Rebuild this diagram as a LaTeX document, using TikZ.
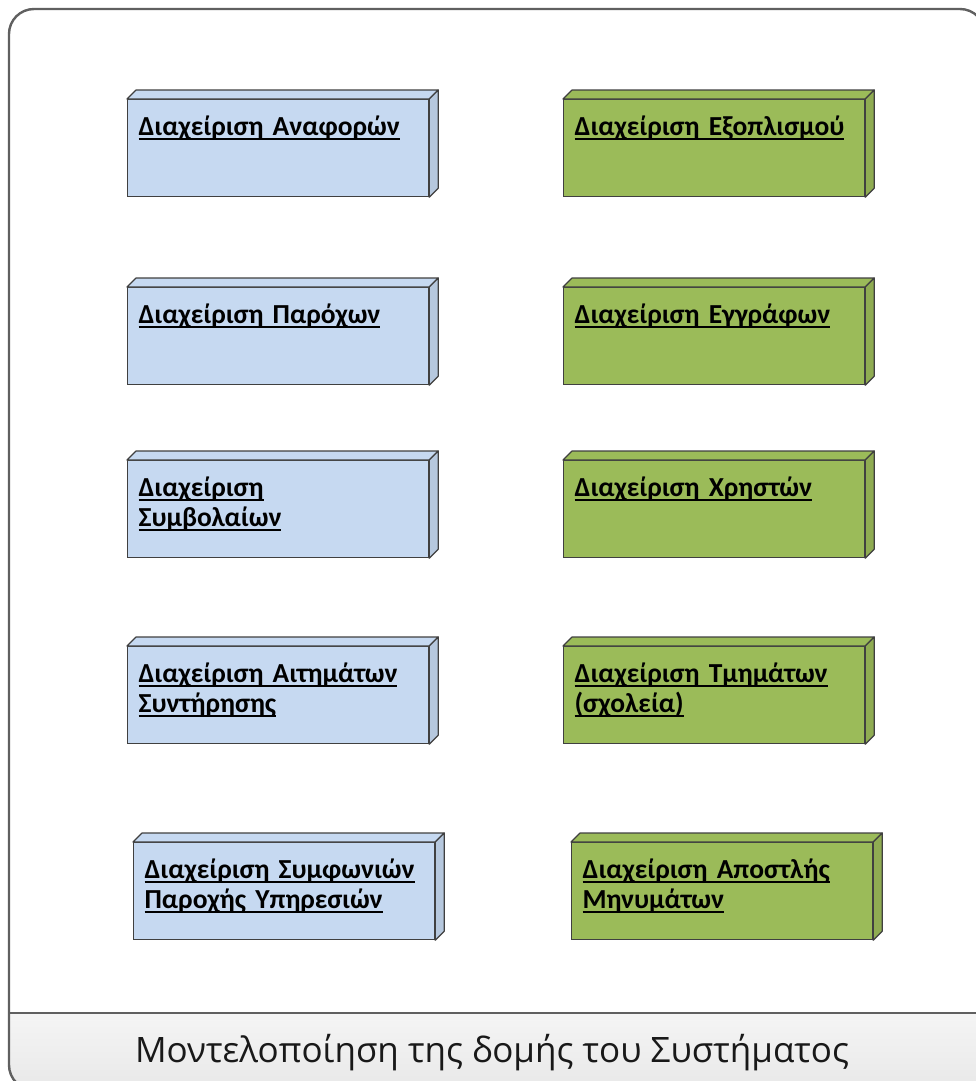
\documentclass[tikz,border=0pt]{standalone}
\usepackage{fontspec}
\setmainfont{Carlito}
\newfontfamily\barfont{Open Sans}
\usetikzlibrary{calc}
\definecolor{boxblue}{HTML}{C6D9F1}
\definecolor{boxgreen}{HTML}{9BBB59}
\definecolor{edgegray}{HTML}{404040}
\definecolor{framegray}{HTML}{606060}
\newcommand{\ulbox}[1]{\leavevmode\setbox0\hbox{#1}\rlap{\rule[-4pt]{\wd0}{1.8pt}}\box0}

\begin{document}
\begin{tikzpicture}[x=1pt, y=-1pt,
		module/.style={
			draw=edgegray,
			line width=1.2pt,
			rectangle,
			anchor=north west,
			minimum width=301pt,
			minimum height=97pt,
			inner xsep=11pt,
			inner ysep=0pt,
			text width=279pt,
			text height=36pt,
			text depth=61pt,
			align=left,
			font=\fontsize{27.5}{30}\selectfont\bfseries
		},
		bluebox/.style={module, fill=boxblue},
		greenbox/.style={module, fill=boxgreen},
		face/.style={draw=edgegray, line width=1.2pt, line join=round},
		frame/.style={draw=framegray, line width=2.4pt, rounded corners=25pt},
		title/.style={anchor=base, font=\barfont\fontsize{35}{40}\selectfont, text=black!90}
		]
		
		\useasboundingbox (0,0) rectangle (976,1081);
		\clip (0,0) rectangle (976,1081);
		
		% --- Frame and bottom bar ---
		\begin{scope}
			\clip[rounded corners=25pt] (9,9) rectangle (985,1090);
			\shade[top color=gray!8, bottom color=gray!18] (9,1013) rectangle (985,1090);
		\end{scope}
		\draw[frame] (9,9) rectangle (985,1090);
		\draw[draw=framegray, line width=2pt] (9,1013) -- (985,1013);
		\node[title] (caption) at (492,1062) {Μοντελοποίηση της δομής του Συστήματος};
		
		% --- Left column ---
		\node[bluebox] (rep) at (127,99) {\ulbox{Διαχείριση Αναφορών}};
		\node[bluebox] (prov) at (127,287) {\ulbox{Διαχείριση Παρόχων}};
		\node[bluebox] (contr) at (127,460) {\ulbox{Διαχείριση}\\\ulbox{Συμβολαίων}};
		\node[bluebox] (maint) at (127,646) {\ulbox{Διαχείριση Αιτημάτων}\\\ulbox{Συντήρησης}};
		\node[bluebox] (sla) at (133,842) {\ulbox{Διαχείριση Συμφωνιών}\\\ulbox{Παροχής Υπηρεσιών}};
		
		% --- Right column ---
		\node[greenbox] (equip) at (563,99) {\ulbox{Διαχείριση Εξοπλισμού}};
		\node[greenbox] (docs) at (563,287) {\ulbox{Διαχείριση Εγγράφων}};
		\node[greenbox] (users) at (563,460) {\ulbox{Διαχείριση Χρηστών}};
		\node[greenbox] (depts) at (563,646) {\ulbox{Διαχείριση Τμημάτων}\\\ulbox{(σχολεία)}};
		\node[greenbox] (msgs) at (571,842) {\ulbox{Διαχείριση Αποστλής}\\\ulbox{Μηνυμάτων}};
		
		% --- 3D faces ---
		\foreach \n/\c in {rep/boxblue, prov/boxblue, contr/boxblue, maint/boxblue, sla/boxblue,
			equip/boxgreen, docs/boxgreen, users/boxgreen, depts/boxgreen, msgs/boxgreen} {
			\filldraw[face, fill=\c] (\n.north west) -- ++(9,-9) -- ($(\n.north east)+(9,-9)$) -- (\n.north east) -- cycle;
			\filldraw[face, fill=\c!92!black] (\n.north east) -- ++(9,-9) -- ($(\n.south east)+(9,-9)$) -- (\n.south east) -- cycle;
		}
		
	\end{tikzpicture}
\end{document}
